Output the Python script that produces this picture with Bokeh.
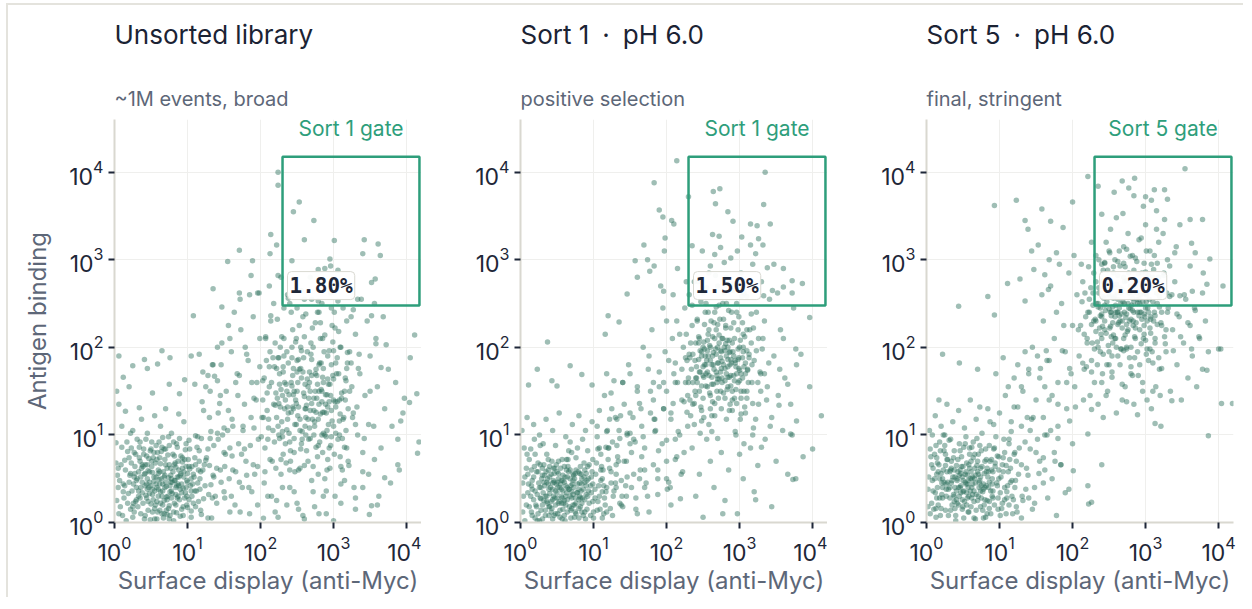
from bokeh.plotting import figure
from bokeh.models import Title, Label, FixedTicker
from bokeh.layouts import row
from bokeh.embed import file_html
from bokeh.resources import INLINE

# ---------------- data ----------------
# points are (log10(display), log10(binding)) in hundredths
panel_titles = ["Unsorted library", "Sort 1\u2002\u00b7\u2002pH 6.0", "Sort 5\u2002\u00b7\u2002pH 6.0"]
panel_subtitles = ["~1M events, broad", "positive selection", "final, stringent"]
gate_names = ["Sort 1 gate", "Sort 1 gate", "Sort 5 gate"]
gate_percents = ["1.80%", "1.50%", "0.20%"]
gate_x = [200, 15000]
gate_y = [300, 15000]
tick_values = [1, 10, 100, 1000, 10000]

unsorted_clog = [
(5,62),(12,35),(18,81),(22,15),(27,52),(31,95),(35,28),(38,66),(42,8),(44,44),(47,73),(50,21),(52,57),(55,36),(57,88),
(59,12),(61,49),(63,67),(65,30),(67,5),(69,54),(71,41),(73,77),(75,19),(77,62),(79,33),(81,92),(83,48),(85,11),(87,70),
(89,26),(91,56),(94,39),(97,83),(100,17),(103,61),(106,30),(110,74),(114,45),(119,9),(8,18),(14,71),(20,46),(25,105),
(29,24),(33,58),(36,40),(40,84),(43,31),(46,59),(49,3),(51,92),(54,47),(56,20),(58,72),(60,38),(62,14),(64,81),(66,44),
(68,25),(70,66),(72,9),(74,51),(76,35),(78,102),(80,58),(82,22),(84,40),(86,86),(88,52),(90,7),(93,69),(96,28),(99,48),
(102,94),(105,13),(108,55),(112,36),(116,82),(122,27),(2,91),(10,110),(16,2),(23,68),(30,40),(37,118),(41,55),(48,33),
(53,74),(60,60),(66,97),(71,29),(77,46),(84,63),(92,15),(98,64),(104,42),(111,99),(118,58),(125,71),(128,5),(132,43),
(136,88),(140,22),(145,60),(150,35),(155,105),(158,12),(130,120),(142,95),(6,135),(15,127),(34,131),(55,122),(70,130),
(95,115),(120,138),(45,102),(63,110),(88,124),
(3,25),(7,48),(11,8),(15,60),(19,33),(23,85),(27,12),(31,50),(35,70),(39,22),(43,95),(47,40),(51,64),(55,16),(59,80),
(63,35),(67,58),(71,14),(75,88),(79,46),(83,68),(87,30),(91,76),(95,52),(99,20),(103,84),(107,44),(111,66),(115,24),(119,96),
(5,40),(9,66),(13,28),(17,92),(21,54),(25,18),(29,78),(33,36),(37,62),(41,4),(45,50),(49,82),(53,26),(57,44),(61,92),
(65,10),(69,72),(73,30),(77,54),(81,2),(85,42),(89,96),(93,62),(97,34),(101,72),(105,6),(109,52),(113,86),(117,38),(121,60),
(2,68),(6,10),(10,86),(14,42),(18,22),(22,102),(26,44),(30,26),(34,86),(38,46),(42,66),(46,24),(50,84),(54,52),(58,4),
(62,74),(66,20),(70,46),(74,98),(78,28),(82,76),(86,52),(90,38),(94,18),(98,90),(102,26),(106,64),(110,36),(114,98),(118,14),
(4,54),(12,44),(20,74),(28,56),(36,10),(44,76),(52,38),(60,56),(68,84),(76,8),(84,32),(92,44),(100,56),(108,22),(116,70),
(124,42),(128,84),(134,28),(140,62),(146,46),(152,78),(160,30),(166,58),(172,12),(178,84),(184,40),(190,66),(196,20),(132,104),(150,108),
(24,36),(28,64),(32,18),(36,52),(40,78),(44,28),(48,58),(52,12),(56,68),(60,30),(64,50),(68,10),(72,62),(76,42),(80,78),
(84,20),(88,60),(92,34),(96,72),(100,46),(26,22),(30,48),(34,74),(38,34),(42,56),(46,14),(50,42),(54,80),(58,24),(62,58),
(66,36),(70,84),(74,16),(78,50),(82,66),(86,28),(90,54),(94,8),(98,40),(102,64),(22,56),(27,80),(33,30),(39,64),(45,38),
(51,70),(57,52),(63,22),(69,40),(75,66),(81,12),(87,44),(93,74),(99,30),(105,50),(111,18),(117,50),(123,66),(129,32),(135,54),
(25,6),(35,92),(45,66),(55,4),(65,86),(75,4),(85,90),(95,58),(105,36),(115,60),(48,46),(58,40),(68,52),(78,36),(88,42),
(62,44),(72,26),(82,48),(42,42),(52,32),
(6,190),(41,186),(65,196),(76,188),(105,190),(116,192),(12,166),(25,179),(45,176),(59,181),(96,163),(128,168),(137,167),
(89,147),(110,158),(3,150),(20,155),(52,148),(75,158),(145,145),
(125,155),(130,65),(135,180),(138,30),(142,125),(147,205),(150,80),(153,150),(157,50),(160,195),(162,110),(165,20),
(168,170),(170,90),(173,220),(175,40),(178,135),(180,70),(183,185),(185,10),(187,120),(190,235),(192,55),(195,160),
(197,95),(199,210),(164,240),(156,225),(172,255),(148,100),(133,5),(188,35),(179,200),(169,145),(158,85),(194,140),
(141,162),(185,260),(176,105),(162,60),
(122,128),(126,74),(131,150),(136,52),(141,102),(146,180),(151,28),(156,128),(161,76),(166,160),(171,46),(176,110),
(181,192),(186,88),(191,142),(196,64),(121,172),(131,96),(141,200),(151,64),(161,118),(171,168),(181,54),(191,108),
(199,178),(158,210),(144,136),(174,78),(188,160),(134,180),
(202,120),(205,45),(208,185),(210,95),(212,155),(214,230),(216,70),(218,135),(220,205),(222,25),(224,110),(226,170),
(228,55),(230,145),(232,245),(234,90),(236,195),(238,125),(240,40),(242,160),(244,220),(246,80),(248,140),(250,185),
(252,15),(254,105),(256,165),(258,235),(260,65),(262,130),(264,195),(266,95),(268,150),(270,255),(272,35),(274,115),
(276,175),(278,75),(280,135),(282,210),(284,100),(286,160),(288,50),(290,125),(292,190),(294,85),(296,145),(298,225),
(300,110),(302,30),(304,170),(306,95),(308,140),(310,200),(312,60),(314,120),(316,165),(318,85),(320,130),(322,195),
(203,162),(207,212),(211,108),(215,30),(219,178),(223,142),(227,200),(231,78),(235,158),(239,102),(243,188),(247,58),
(251,122),(255,200),(259,148),(263,82),(267,172),(271,118),(275,228),(279,55),(283,152),(287,195),(291,105),(295,62),
(299,168),(303,132),(307,218),(311,148),(315,48),(319,182),(206,85),(213,195),(221,62),(229,115),(237,260),(245,130),
(253,175),(261,110),(269,205),(277,142),(285,80),(293,158),(301,240),(309,75),(317,105),(325,155),(328,40),(330,215),
(333,100),(336,170),(209,148),(217,105),(225,188),(233,130),(241,70),(249,210),(257,95),(265,155),(273,100),(281,182),
(289,135),(297,98),(305,188),(313,245),(321,65),(327,125),(335,192),(340,80),(343,145),(346,230),(204,5),(220,12),
(236,20),(258,8),(274,18),(290,10),(310,22),(330,15),(246,35),(286,30),(198,262),(212,270),(228,280),(240,250),(256,265),
(268,280),(284,250),(296,262),(312,270),(324,235),(218,250),(250,245),(280,240),(338,255),(350,190),(355,110),(348,55),
(360,155),(358,210),(365,85),(370,130),(375,175),(362,30),(380,110),(368,235),(385,160),(390,60),(395,125),(378,45),(356,250),
(201,98),(205,165),(209,128),(213,72),(217,188),(221,148),(225,100),(229,212),(233,160),(237,118),(241,82),(245,176),
(249,136),(253,225),(257,104),(261,158),(265,70),(269,192),(273,128),(277,168),(281,92),(285,210),(289,146),(293,112),
(297,180),(301,78),(305,138),(309,200),(313,118),(317,162),(203,140),(207,210),(211,118),(215,160),(219,92),(223,232),
(227,132),(231,178),(235,68),(239,146),(243,200),(247,112),(251,160),(255,84),(259,188),(263,134),(267,108),(271,222),
(275,150),(279,88),(283,182),(287,126),(291,60),(295,158),(299,206),(303,102),(307,170),(311,142),(315,86),(319,194),
(206,58),(214,236),(222,176),(230,98),(238,256),(246,150),(254,62),(262,120),(270,168),(278,240),(286,102),(294,196),
(302,138),(310,64),(318,230),(326,120),(334,176),(342,96),(350,150),(358,204),(204,120),(212,178),(220,134),(228,152),
(236,106),(244,132),(252,186),(260,144),(268,96),(276,126),(284,150),(292,132),(300,164),(308,116),(316,140),(324,182),
(332,132),(340,58),(348,112),(356,72),(210,30),(230,40),(250,22),(270,48),(290,36),(310,44),(330,28),(260,4),(300,2),
(240,60),(280,10),(320,70),(340,40),(360,20),(224,6),
(222,120),(226,158),(230,104),(234,140),(238,182),(242,126),(246,96),(250,150),(254,118),(258,172),(262,100),(266,142),
(270,186),(274,110),(278,158),(282,124),(286,176),(290,98),(294,138),(298,116),(224,188),(228,72),(232,210),(236,150),
(240,92),(244,168),(248,206),(252,132),(256,90),(260,212),(264,164),(268,128),(272,200),(276,86),(280,180),(284,138),
(288,214),(292,164),(296,88),(300,196),(225,136),(231,172),(237,132),(243,156),(249,112),(255,176),(261,130),(267,160),
(273,142),(279,118),(285,166),(291,146),(297,128),(303,182),(309,124),(315,150),(245,146),(265,118),(285,126),(275,170),
(242,240),(262,238),(282,228),(302,222),(252,60),(272,64),(292,72),(312,96),(232,190),(322,150),(330,112),(308,100),
(318,176),(226,96),(256,196),(288,100),(300,140),(270,136),(250,172),(280,150),
(224,400),(224,385),(253,366),(245,355),(273,345),(260,323),(301,322),(342,323),(361,318),(340,307),(364,305),(295,301),
(214,329),(222,317),(213,307),(357,278),(352,274),(243,299),(171,311),(155,298),(189,299),(135,267),(147,246),(108,236),
(279,289),(288,290),(296,293),(306,288),(187,282),(196,262),(171,262),(224,282),(260,255),(279,253),(306,253),(333,255),
(327,243),(297,245),(352,236),(411,214),(405,188),(372,203),(365,177),(397,142),(414,147),(404,137),(417,92),(415,79),
(388,66),(392,116),(388,95),(352,19),(370,51),(349,9),
]

sort1_clog = [
(214,413),(335,400),(273,381),(264,378),(333,363),(267,364),(284,355),(291,344),(315,341),(324,339),(342,341),(263,329),
(272,327),(303,326),(326,324),(315,317),(332,317),(274,314),(235,316),(249,310),(266,306),(297,310),(288,302),(322,307),
(347,295),(338,291),(279,297),(260,293),(372,276),(386,273),(372,262),(360,269),(352,262),(306,262),(333,259),
(183,388),(190,357),(195,349),(207,345),(210,341),(230,372),(198,325),(197,310),(169,317),(157,299),(174,300),(177,287),
(160,280),(183,293),(146,261),(196,264),(120,236),(116,215),(135,229),(37,206),(68,179),(23,175),(11,157),(43,162),
(98,157),(84,169),(50,156),
(396,234),(412,122),(400,84),(396,155),(377,198),(384,192),(378,116),(370,101),(387,75),(373,49),(377,50),(344,18),
(322,26),(297,10),(277,10),(250,6),(219,27),(201,38),
(230,160),(233,205),(236,135),(239,185),(242,230),(245,150),(248,195),(251,120),(254,170),(257,215),(260,145),(263,190),
(266,240),(269,160),(272,205),(275,130),(278,180),(281,225),(284,155),(287,195),(290,140),(293,210),(296,170),(299,235),
(302,150),(305,195),(308,125),(311,175),(314,220),(317,160),(231,192),(235,248),(238,112),(241,165),(244,212),(247,132),
(250,178),(253,240),(256,155),(259,202),(262,122),(265,175),(268,220),(271,142),(274,188),(277,250),(280,162),(283,208),
(286,128),(289,182),(292,228),(295,152),(298,198),(301,118),(304,165),(307,212),(310,142),(313,192),(316,238),(319,108),
(234,175),(240,145),(246,172),(252,198),(258,168),(264,158),(270,182),(276,165),(282,190),(288,168),(294,185),(300,162),
(306,178),(255,185),(267,198),(279,200),(291,195),(261,230),(273,232),(285,242),
(242,160),(246,196),(250,142),(254,180),(258,220),(262,166),(266,136),(270,200),(274,150),(278,232),(282,170),(286,208),
(290,150),(294,182),(298,220),(302,170),(306,150),(310,196),(256,208),(268,172),(244,186),(248,156),(252,226),(256,172),
(260,130),(264,194),(268,246),(272,164),(276,210),(280,142),(284,186),(288,222),(292,168),(296,136),(300,200),(304,228),
(308,182),(312,160),(276,184),(288,156),(245,210),(251,166),(257,190),(263,212),(269,150),(275,176),(281,204),(287,180),
(293,142),(299,176),(305,200),(311,174),(317,180),(323,196),(329,150),(262,180),(274,196),(286,194),(298,186),(280,176),
(236,160),(240,205),(232,140),(228,185),(318,136),(326,210),(334,170),(266,122),(282,250),(296,250),(254,250),(270,226),
(290,128),(302,124),(248,116),(262,104),(310,220),(250,200),(284,166),(270,164),
(165,130),(170,85),(175,175),(180,220),(185,105),(190,155),(195,245),(200,70),(203,185),(206,125),(209,260),(212,95),
(215,160),(218,215),(221,140),(224,80),(227,275),(229,110),(172,45),(188,60),(198,195),(205,40),(214,230),(220,55),
(226,188),(192,270),(182,160),(168,200),(178,125),(210,170),(320,185),(323,240),(326,135),(329,170),(332,210),(335,95),
(338,155),(341,255),(344,120),(347,190),(350,70),(353,145),(356,220),(359,105),(362,165),(366,55),(370,135),(374,245),
(378,180),(355,175),(235,85),(245,55),(255,95),(265,40),(275,80),(285,60),(295,100),(305,50),(315,85),(325,65),(240,30),
(260,70),(280,25),(300,78),(320,35),(250,262),(270,270),(290,265),(310,258),(330,275),(238,275),(258,285),(282,280),
(302,285),(318,295),(225,245),(345,265),(360,290),(215,290),(200,230),
(105,110),(110,60),(115,145),(120,85),(125,130),(130,45),(135,105),(140,160),(145,70),(150,125),(155,95),(160,155),
(163,50),(112,35),(128,162),(138,20),(148,180),(158,15),(118,170),(142,135),(133,75),(152,40),(122,118),(108,85),(146,102),
(3,45),(8,20),(12,72),(16,38),(20,5),(24,58),(28,27),(31,90),(34,14),(37,50),(40,33),(43,70),(46,8),(49,44),(52,22),
(55,62),(58,36),(61,2),(64,52),(67,18),(70,80),(73,40),(76,10),(79,58),(82,28),(85,95),(88,46),(91,15),(94,66),(97,34),
(100,5),(103,55),(106,24),(110,78),(114,42),(118,12),(122,62),(127,30),(132,88),(138,48),(5,85),(10,55),(15,12),(19,95),
(23,32),(27,66),(30,4),(33,42),(36,78),(39,18),(42,55),(45,30),(48,88),(51,10),(54,40),(57,72),(60,25),(63,60),(66,38),
(69,5),(72,55),(75,28),(78,85),(81,45),(84,12),(87,68),(90,32),(93,50),(96,8),(99,72),(102,38),(105,98),(109,15),(113,60),
(117,35),(121,85),(126,8),(131,55),(136,22),(142,70),(2,105),(9,120),(18,112),(26,100),(35,118),(44,105),(53,125),(62,98),
(71,112),(80,122),(89,105),(98,115),(108,128),(119,105),(130,120),(145,30),(150,90),(155,55),(160,10),(166,75),(47,62),
(56,48),(65,72),(74,20),(83,55),(62,42),(50,28),(70,35),(58,15),(44,45),(25,45),(38,60),(80,5),(92,82),(15,60),(32,25),
(68,92),(112,5),(124,45),(6,2),
(14,30),(18,52),(22,18),(26,40),(30,62),(34,8),(38,44),(42,24),(46,56),(50,34),(54,14),(58,48),(62,20),(66,58),(70,28),
(74,6),(78,44),(82,18),(86,38),(90,56),(16,8),(20,36),(24,68),(28,14),(32,46),(36,30),(40,64),(44,38),(48,10),(52,56),
(56,30),(60,8),(64,40),(68,50),(72,20),(76,60),(80,26),(84,44),(88,12),(92,30),(11,44),(19,64),(27,28),(35,58),(43,16),
(51,46),(59,22),(67,38),(75,12),(83,36),(91,48),(99,24),(107,42),(115,28),(123,16),(131,40),(139,30),(55,44),(63,34),(47,28),
(23,2),(31,34),(39,8),(49,66),(57,4),(65,64),(73,54),(81,56),(89,4),(97,52),(41,40),(53,24),(61,52),(69,14),(77,34),
(45,48),(37,22),(29,50),(71,44),(85,28),
(4,30),(8,62),(12,18),(16,48),(20,78),(24,10),(28,40),(32,66),(36,24),(40,52),(44,4),(48,36),(52,70),(56,22),(60,46),
(64,12),(68,60),(72,32),(76,74),(80,16),(84,50),(88,26),(92,64),(96,42),(100,12),(104,68),(108,30),(112,50),(116,20),(120,72),
(6,52),(10,34),(14,84),(18,26),(22,58),(26,2),(30,54),(34,30),(38,72),(42,12),(46,46),(50,58),(54,6),(58,54),(62,30),
(66,82),(70,16),(74,50),(78,34),(82,64),(86,8),(90,42),(94,22),(98,58),(102,28),(106,84),(110,48),(114,10),(118,40),(124,58),
(3,12),(9,78),(15,42),(21,20),(27,88),(33,54),(39,38),(45,62),(51,40),(57,28),(63,72),(69,42),(75,56),(81,30),(87,52),
(93,36),(99,44),(105,14),(111,64),(117,86),(128,36),(134,70),(140,18),(146,52),(152,80),(158,28),(164,60),(170,40),
(176,12),(182,66),(188,32),(194,90),(200,50),(206,20),(212,72),(150,102),(166,110),(184,118),(136,96),(196,130),
(48,20),(56,38),(64,26),(72,48),(80,38),(60,64),(68,30),(76,22),(52,50),(44,26),(40,18),(84,22),(88,60),(36,46),(30,20),
(221,175),(224,138),(227,215),(230,165),(233,122),(236,192),(239,150),(242,232),(245,172),(248,128),(251,206),(254,156),
(257,240),(260,185),(263,138),(266,210),(269,168),(272,248),(275,195),(278,148),(281,222),(284,178),(287,135),(290,205),
(293,162),(296,240),(299,188),(302,142),(305,215),(308,170),(223,200),(229,145),(235,225),(241,178),(247,252),(253,190),
(259,148),(265,228),(271,182),(277,210),(283,152),(289,240),(295,178),(301,208),(307,132),(313,188),(319,222),(325,160),
(331,198),(337,140),(226,160),(232,188),(238,136),(244,205),(250,168),(256,196),(262,158),(268,192),(274,172),(280,196),
(286,166),(292,190),(298,160),(304,188),(310,150),(316,205),(322,118),(328,172),(334,230),(340,182),(231,260),(243,275),
(255,268),(267,282),(279,262),(291,272),(303,258),(246,102),(258,112),(270,96),(282,118),(294,104),(306,90),(318,100),
(330,86),(342,110),(354,134),(366,158),(372,100),(360,210),(264,180),(276,160),(288,186),(252,180),(240,165),(300,174),
(284,200),(272,214),(260,200),(248,190),(200,150),(206,118),(212,182),(218,100),(196,130),(190,172),(184,104),(178,150),
(208,210),(214,75),
(118,104),(124,148),(131,66),(137,122),(144,42),(150,170),(157,92),(163,136),(170,60),(176,190),(183,118),(189,82),
(196,160),(203,46),(209,136),(216,104),(222,58),(228,126),(126,92),(140,160),(154,120),(168,98),(182,140),(174,30),
(188,50),(160,150),(146,100),(132,118),(200,94),(212,160),
]

sort5_clog = [
(354,404),(285,393),(268,390),(277,382),(257,377),(235,384),(221,395),(312,380),(326,380),(330,369),(300,372),(308,368),
(284,373),(269,353),(260,348),(240,352),(297,361),(315,356),(326,346),(347,340),(361,346),(378,346),(315,335),(291,323),
(301,310),(279,304),(265,293),(251,308),(244,297),(363,319),(368,308),(340,308),(388,301),(379,285),(361,293),(333,293),
(406,270),(384,272),(364,264),(347,259),(329,262),(311,289),(301,280),
(123,368),(93,362),(44,247),(84,258),(93,237),(111,273),(135,345),(158,358),(170,344),(200,366),(187,337),(139,335),
(144,310),(153,317),(147,289),(135,253),(128,278),(162,283),(167,266),(178,308),
(404,136),(419,136),(386,99),(400,198),(403,198),(384,174),(336,139),(321,110),(313,113),(289,123),(240,66),(221,42),
(222,21),(226,23),(221,101),(196,116),(226,129),(201,59),(195,38),(184,66),
(220,210),(223,255),(226,185),(229,230),(232,275),(235,200),(238,245),(241,170),(244,220),(247,265),(250,195),(253,240),
(256,285),(259,210),(262,255),(265,180),(268,230),(271,275),(274,200),(277,245),(280,170),(283,225),(286,270),(289,195),
(292,240),(295,285),(298,215),(301,260),(304,185),(307,235),(310,280),(313,205),(316,250),(319,175),(322,225),(221,240),
(227,205),(233,250),(239,215),(245,242),(251,222),(257,258),(263,228),(269,252),(275,218),(281,248),(287,228),(293,260),
(299,235),(305,255),(311,230),(317,270),(236,268),(248,288),(260,272),(272,292),(284,288),(296,270),(308,295),(242,192),
(254,172),(266,198),(278,188),(290,168),(302,198),(314,155),(230,160),(255,205),(270,210),(285,212),(262,240),(278,262),
(250,260),(292,250),(266,262),(240,235),(258,235),(274,238),(300,245),(288,255),
(232,230),(236,262),(240,210),(244,248),(248,274),(252,224),(256,256),(260,200),(264,236),(268,266),(272,214),(276,250),
(280,200),(284,240),(288,262),(292,220),(296,252),(300,208),(304,240),(308,268),(234,206),(238,236),(242,288),(246,216),
(250,244),(254,190),(258,268),(262,226),(266,250),(270,196),(274,276),(278,230),(282,256),(286,222),(290,284),(294,204),
(298,262),(302,230),(306,198),(310,252),(235,246),(241,224),(247,252),(253,236),(259,248),(265,230),(271,240),(277,262),
(283,230),(289,250),(295,232),(301,252),(307,216),(313,236),(319,258),(255,246),(267,238),(279,244),(291,236),(261,240),
(226,226),(230,198),(322,240),(326,212),(318,280),(244,296),(270,296),(300,286),(250,180),(280,178),(310,182),(228,262),
(262,282),(286,276),(316,226),(242,258),(274,226),(298,238),(256,214),(284,252),
(160,230),(165,185),(170,270),(175,210),(180,160),(185,250),(190,195),(195,285),(200,225),(203,155),(206,260),(209,190),
(212,295),(215,140),(218,235),(172,145),(182,295),(192,130),(202,305),(168,300),(158,260),(188,225),(198,170),(208,220),
(216,175),(152,190),(162,155),(178,240),(214,275),(224,145),(325,285),(328,195),(331,245),(334,150),(337,220),(340,275),
(343,180),(346,235),(349,140),(352,205),(355,255),(358,165),(361,225),(364,190),(367,245),(370,155),(374,210),(378,175),
(382,230),(386,195),(235,135),(248,150),(260,125),(272,155),(284,135),(296,150),(308,130),(320,145),(242,120),(268,140),
(232,305),(246,320),(258,300),(270,315),(282,305),(294,325),(306,310),(318,320),(330,300),(342,315),(226,320),(252,335),
(276,330),(300,340),(324,330),(240,295),(264,310),(288,298),(312,305),(336,260),
(211,225),(214,182),(217,262),(220,205),(223,240),(226,172),(229,285),(232,218),(235,250),(238,195),(241,275),(244,230),
(247,180),(250,258),(253,212),(256,292),(259,240),(262,190),(265,268),(268,222),(271,250),(274,198),(277,285),(280,232),
(283,262),(286,210),(289,240),(292,180),(295,270),(298,225),(213,252),(219,178),(225,268),(231,232),(237,222),(243,256),
(249,202),(255,228),(261,262),(267,198),(273,234),(279,270),(285,188),(291,255),(297,210),(303,245),(309,195),(315,262),
(321,228),(327,204),(216,215),(222,292),(228,248),(234,180),(240,238),(246,268),(252,240),(258,210),(264,245),(270,280),
(276,220),(282,242),(288,275),(294,240),(300,262),(306,222),(312,240),(318,188),(324,268),(330,240),(301,192),(304,282),
(307,232),(310,268),(313,210),(316,296),(319,246),(322,176),(325,282),(328,220),(333,258),(338,196),(343,238),(348,212),
(353,260),(358,228),(363,198),(368,242),(373,212),(378,262),(236,300),(250,310),(262,298),(274,312),(286,302),(298,296),
(240,160),(254,166),(268,158),(282,168),(296,160),(310,150),(246,145),(274,138),(302,140),
(130,155),(140,175),(150,140),(145,200),(125,180),(160,120),(155,165),(135,195),(170,105),(175,80),(120,165),(162,60),
(168,185),(180,135),(112,155),(95,170),(70,175),(22,192),(45,182),(105,188),(120,132),(132,150),(144,118),(156,176),
(168,140),(180,110),(192,160),(204,132),(150,80),(176,70),(200,90),(140,170),(186,196),(196,176),(164,196),
(2,38),(6,75),(10,15),(14,55),(18,92),(22,28),(26,65),(30,8),(34,45),(38,82),(42,22),(46,60),(50,35),(54,98),(58,12),
(62,50),(66,78),(70,25),(74,62),(78,5),(82,42),(86,88),(90,30),(94,68),(98,15),(102,52),(106,95),(110,35),(114,72),(118,10),
(122,48),(127,85),(132,25),(137,62),(142,105),(148,40),(4,105),(12,122),(20,110),(28,135),(36,115),(44,128),(52,108),
(60,140),(68,118),(76,102),(84,130),(92,112),(100,125),(108,145),(116,115),(125,132),(8,48),(16,20),(24,82),(32,58),
(40,2),(48,75),(56,28),(64,92),(72,40),(80,70),(88,10),(96,45),(104,22),(112,58),(120,78),(130,5),(140,28),(155,70),
(5,10),(13,88),(21,45),(29,72),(37,32),(45,90),(53,55),(61,18),(69,65),(77,35),(85,58),(93,85),(101,8),(109,65),(117,30),
(126,55),(135,92),(145,15),(160,45),(165,100),(47,42),(55,68),(63,32),(71,55),(79,20),(57,48),(49,15),(67,45),(41,65),
(75,82),(33,95),(83,25),(59,85),(91,58),(27,38),(15,68),(99,75),(107,40),(39,52),(65,5),(9,62),(23,100),(51,5),(87,115),
(113,95),(123,18),(138,120),(152,95),(73,132),(17,140),
(12,34),(16,58),(20,16),(24,46),(28,72),(32,28),(36,52),(40,8),(44,40),(48,64),(52,24),(56,54),(60,36),(64,74),(68,14),
(72,46),(76,64),(80,26),(84,52),(88,36),(14,74),(18,28),(22,50),(26,14),(30,38),(34,70),(38,24),(42,48),(46,82),(50,18),
(54,44),(58,66),(62,28),(66,50),(70,70),(74,18),(78,38),(82,72),(86,16),(90,44),(11,50),(19,82),(27,44),(35,20),(43,58),
(51,36),(59,78),(67,54),(75,42),(83,62),(91,28),(99,60),(107,26),(115,46),(123,70),(131,30),(139,54),(53,46),(61,58),(45,30),
(7,66),(13,16),(25,88),(33,60),(41,26),(49,52),(57,12),(65,36),(73,88),(81,6),(89,72),(97,42),(105,74),(113,20),(121,40),
(55,34),(63,52),(71,30),(47,56),(39,40),
(3,52),(7,22),(11,78),(15,40),(19,8),(23,60),(27,30),(31,94),(35,48),(39,16),(43,72),(47,34),(51,86),(55,20),(59,62),
(63,44),(67,4),(71,78),(75,28),(79,56),(83,10),(87,70),(91,36),(95,98),(99,50),(103,16),(107,80),(111,42),(115,62),(119,26),
(5,84),(9,36),(13,6),(17,66),(21,32),(25,100),(29,46),(33,14),(37,74),(41,36),(45,54),(49,26),(53,90),(57,40),(61,70),
(65,24),(69,96),(73,48),(77,14),(81,84),(85,40),(89,60),(93,20),(97,76),(101,34),(105,58),(109,10),(113,90),(117,48),(121,80),
(2,18),(8,100),(14,28),(20,56),(26,78),(32,40),(38,60),(44,20),(50,64),(56,44),(62,86),(68,32),(74,52),(80,40),(86,24),
(92,84),(98,28),(104,66),(110,28),(116,104),(124,12),(130,66),(136,38),(142,84),(148,22),(154,56),(160,74),(166,28),
(172,50),(178,8),(184,66),(190,34),(130,110),(146,120),(162,100),(180,96),(46,40),(54,58),(62,40),(70,58),(78,44),
(58,30),(66,62),(50,48),(42,50),(74,36),(60,50),(34,62),(82,58),(38,30),(86,46),(28,58),(90,50),(22,40),(94,64),(18,50),
]

panels_clog = [unsorted_clog, sort1_clog, sort5_clog]

# ---------------- style ----------------
FONT = "Inter"
MONO = "DejaVu Sans Mono"
DOT = "#2a6f5b"
GATE = "#2e9e7b"
TITLE_C = "#1b2334"
SUB_C = "#5d6778"
TICK_C = "#1e2738"
AXIS_C = "#d9d8d0"
GRID_C = "#efefed"

X_RANGE = (1, 16000)
Y_RANGE = (1, 40000)

figs = []
for i in range(3):
    left = 106 if i == 0 else 99
    right = 10 if i == 2 else 0
    p = figure(x_axis_type="log", y_axis_type="log", title=None,
               x_range=X_RANGE, y_range=Y_RANGE,
               frame_width=307, frame_height=403,
               min_border_left=left, min_border_right=right,
               min_border_top=10, min_border_bottom=75,
               output_backend="svg", toolbar_location=None,
               background_fill_color="white", border_fill_color="white")
    p.outline_line_color = None

    # stacked from the frame upwards: subtitle, spacer, title
    p.add_layout(Title(text=panel_subtitles[i], text_font=FONT, text_font_size="20px",
                       text_font_style="normal", text_color=SUB_C, standoff=17), "above")
    p.add_layout(Title(text=" ", text_font_size="1px", standoff=12), "above")
    p.add_layout(Title(text=panel_titles[i], text_font=FONT, text_font_size="26px",
                       text_font_style="normal", text_color=TITLE_C, standoff=23), "above")

    for ax in (p.xaxis[0], p.yaxis[0]):
        ax.ticker = FixedTicker(ticks=tick_values)
        ax.axis_line_color = AXIS_C
        ax.axis_line_width = 2
        ax.major_tick_line_color = TICK_C
        ax.major_tick_line_width = 2
        ax.major_tick_out = 6
        ax.major_tick_in = 0
        ax.minor_tick_line_color = None
        ax.major_label_text_font = FONT
        ax.major_label_text_font_size = "23px"
        ax.major_label_text_color = TICK_C
        ax.axis_label_text_font = FONT
        ax.axis_label_text_font_size = "24px"
        ax.axis_label_text_font_style = "normal"
        ax.axis_label_text_color = SUB_C
    p.xaxis.axis_label = "Surface display (anti-Myc)"
    p.xaxis.major_label_standoff = 7
    p.xaxis.axis_label_standoff = 2
    if i == 0:
        p.yaxis.axis_label = "Antigen binding"
        p.yaxis.axis_label_standoff = 14
    p.grid.grid_line_color = GRID_C
    p.grid.grid_line_width = 1

    pts = panels_clog[i]
    xs = [10 ** (a / 100) for a, b in pts]
    ys = [10 ** (b / 100) for a, b in pts]
    p.scatter(xs, ys, size=5.5, fill_color=DOT, fill_alpha=0.45, line_color=None)

    p.quad(left=gate_x[0], right=gate_x[1], bottom=gate_y[0], top=gate_y[1],
           fill_color=None, line_color=GATE, line_width=2.5)
    gx_c = (gate_x[0] * gate_x[1]) ** 0.5
    p.add_layout(Label(x=gx_c, y=gate_y[1], y_offset=28, text=gate_names[i],
                       text_align="center", text_baseline="alphabetic",
                       text_font=FONT, text_font_size="21px", text_color=GATE))
    p.add_layout(Label(x=gate_x[0], y=gate_y[0], x_offset=5, y_offset=6, text=gate_percents[i],
                       text_align="left", text_baseline="bottom",
                       text_font=MONO, text_font_size="21px", text_font_style="bold",
                       text_color=TICK_C,
                       background_fill_color="white", background_fill_alpha=0.95,
                       border_line_color="#d9d9d2", border_line_width=1,
                       border_radius=4, padding=2))
    figs.append(p)

layout = row(*figs, styles={"border-top": "2px solid #e4e3dd",
                            "border-left": "2px solid #e4e3dd",
                            "margin-top": "3px", "margin-left": "6px"})

open("out.html", "w").write(file_html(layout, INLINE))
